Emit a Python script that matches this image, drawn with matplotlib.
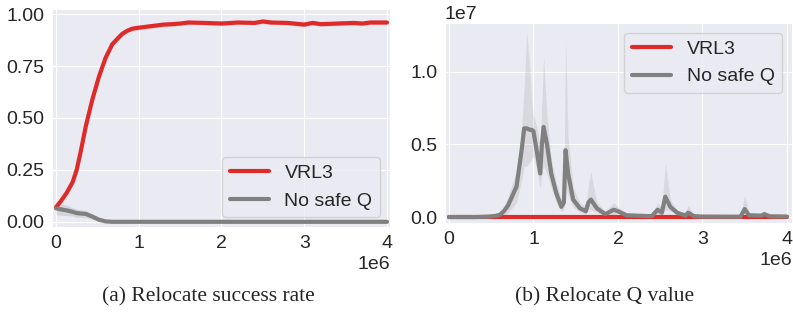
import numpy as np
import matplotlib
matplotlib.use("Agg")
import matplotlib.pyplot as plt
import seaborn as sns

# (a) success rate, x in env steps
succ_x = [0, 0.06e6, 0.13e6, 0.2e6, 0.25e6, 0.3e6, 0.36e6, 0.44e6, 0.52e6, 0.6e6, 0.68e6,
          0.75e6, 0.8e6, 0.86e6, 0.92e6, 1.0e6, 1.1e6, 1.2e6, 1.3e6, 1.4e6, 1.5e6, 1.6e6, 1.8e6,
          2.0e6, 2.2e6, 2.4e6, 2.5e6, 2.6e6, 2.8e6, 3.0e6, 3.1e6, 3.2e6, 3.4e6, 3.6e6,
          3.7e6, 3.8e6, 4.0e6]
vrl3 = [0.07, 0.10, 0.14, 0.19, 0.25, 0.34, 0.46, 0.59, 0.70, 0.79, 0.855,
        0.885, 0.905, 0.92, 0.93, 0.935, 0.94, 0.945, 0.95, 0.952, 0.955, 0.96, 0.958,
        0.955, 0.96, 0.958, 0.965, 0.96, 0.958, 0.95, 0.958, 0.952, 0.955, 0.958,
        0.955, 0.96, 0.96]
no_safe = [0.065, 0.06, 0.055, 0.048, 0.042, 0.04, 0.038, 0.025, 0.01, 0.002, 0.0,
           0.0, 0.0, 0.0, 0.0, 0.0, 0.0, 0.0, 0.0, 0.0, 0.0, 0.0, 0.0,
           0.0, 0.0, 0.0, 0.0, 0.0, 0.0, 0.0, 0.0, 0.0, 0.0, 0.0,
           0.0, 0.0, 0.0]
no_safe_sd = [0.03, 0.028, 0.025, 0.02, 0.02, 0.018, 0.018, 0.012, 0.005, 0.001, 0.0,
              0.0, 0.0, 0.0, 0.0, 0.0, 0.0, 0.0, 0.0, 0.0, 0.0, 0.0, 0.0,
              0.0, 0.0, 0.0, 0.0, 0.0, 0.0, 0.0, 0.0, 0.0, 0.0, 0.0,
              0.0, 0.0, 0.0]

# (b) Q value (units of 1e7)
q_x = [0, 0.3, 0.45, 0.55, 0.6, 0.65, 0.7, 0.73, 0.8, 0.86, 0.89, 0.92, 0.96, 0.98,
       1.0, 1.04, 1.08, 1.1, 1.12, 1.16, 1.21, 1.27, 1.33, 1.36, 1.38, 1.41, 1.47,
       1.55, 1.62, 1.65, 1.68, 1.75, 1.85, 1.95, 2.0, 2.1, 2.2, 2.4, 2.47, 2.52,
       2.56, 2.62, 2.7, 2.8, 2.83, 2.9, 3.0, 3.45, 3.5, 3.55, 3.7, 3.73, 3.8, 4.0]
q_mean = [0.0, 0.0, 0.002, 0.008, 0.015, 0.04, 0.08, 0.12, 0.21, 0.46, 0.61, 0.61, 0.60, 0.60,
          0.59, 0.45, 0.30, 0.50, 0.62, 0.50, 0.30, 0.165, 0.07, 0.10, 0.46, 0.30, 0.12,
          0.06, 0.04, 0.10, 0.12, 0.06, 0.02, 0.05, 0.04, 0.012, 0.01, 0.006, 0.05, 0.03,
          0.14, 0.07, 0.03, 0.01, 0.03, 0.006, 0.003, 0.002, 0.055, 0.012, 0.01, 0.02, 0.005, 0.003]
q_hi = [0.0, 0.0, 0.005, 0.02, 0.03, 0.08, 0.14, 0.20, 0.32, 0.60, 0.90, 1.28, 1.0, 0.78,
        0.70, 0.62, 0.50, 0.80, 1.10, 0.70, 0.40, 0.24, 0.12, 0.20, 1.21, 0.55, 0.20,
        0.10, 0.07, 0.22, 0.31, 0.10, 0.04, 0.10, 0.07, 0.03, 0.02, 0.02, 0.10, 0.06,
        0.37, 0.12, 0.05, 0.02, 0.08, 0.015, 0.01, 0.01, 0.15, 0.03, 0.02, 0.04, 0.01, 0.006]
q_lo = [0.0, 0.0, 0.0, 0.003, 0.005, 0.01, 0.03, 0.05, 0.10, 0.25, 0.35, 0.35, 0.38, 0.40,
        0.42, 0.32, 0.20, 0.30, 0.35, 0.30, 0.20, 0.10, 0.04, 0.05, 0.20, 0.15, 0.07,
        0.03, 0.02, 0.05, 0.05, 0.03, 0.01, 0.02, 0.02, 0.005, 0.004, 0.002, 0.02, 0.01,
        0.05, 0.04, 0.015, 0.005, 0.01, 0.002, 0.001, 0.001, 0.02, 0.005, 0.004, 0.008, 0.002, 0.001]
q_vrl3 = [0.0] * len(q_x)

red = "#df2a2a"
grey = "#808080"

sns.set_style("darkgrid")
plt.rcParams['font.family'] = ['Liberation Sans', 'DejaVu Sans']

fig = plt.figure(figsize=(7.93, 3.2), dpi=100)
ax1 = fig.add_axes([52 / 793, 1 - 227 / 320, 338 / 793, 218 / 320])
ax2 = fig.add_axes([445 / 793, 1 - 223 / 320, 347 / 793, 200 / 320])

sx = np.array(succ_x)
ax1.fill_between(sx, np.array(vrl3) - 0.01, np.array(vrl3) + 0.01, color=red, alpha=0.2, lw=0)
ax1.fill_between(sx, np.array(no_safe) - np.array(no_safe_sd), np.array(no_safe) + np.array(no_safe_sd),
                 color=grey, alpha=0.2, lw=0)
ax1.plot(sx, vrl3, color=red, lw=3, label="VRL3")
ax1.plot(sx, no_safe, color=grey, lw=3, label="No safe Q")
ax1.set_xlim(-0.048e6, 4.036e6)
ax1.set_ylim(-0.025, 1.025)
ax1.set_yticks([0, 0.25, 0.5, 0.75, 1.0])
ax1.set_yticklabels(["0.00", "0.25", "0.50", "0.75", "1.00"])
ax1.legend(loc="lower right", fontsize=14)

qx = np.array(q_x) * 1e6
ax2.fill_between(qx, np.array(q_lo) * 1e7, np.array(q_hi) * 1e7, color=grey, alpha=0.17, lw=0)
ax2.plot(qx, np.array(q_vrl3) * 1e7, color=red, lw=3, label="VRL3")
ax2.plot(qx, np.array(q_mean) * 1e7, color=grey, lw=3, label="No safe Q")
ax2.set_xlim(-0.047e6, 4.06e6)
ax2.set_ylim(-0.041e7, 1.335e7)
ax2.set_yticks([0, 0.5e7, 1.0e7])
ax2.legend(loc="upper right", fontsize=14)

for ax in (ax1, ax2):
    ax.set_xticks([0, 1e6, 2e6, 3e6, 4e6])
    ax.tick_params(labelsize=14, pad=2)
    ax.xaxis.get_offset_text().set_fontsize(14)
    ax.yaxis.get_offset_text().set_fontsize(14)

fig.text(208 / 793, 1 - 297 / 320, "(a) Relocate success rate", ha="center", va="center",
         family="Liberation Serif", fontsize=15.5)
fig.text(605 / 793, 1 - 297 / 320, "(b) Relocate Q value", ha="center", va="center",
         family="Liberation Serif", fontsize=15.5)

fig.savefig("out.png", dpi=100)
